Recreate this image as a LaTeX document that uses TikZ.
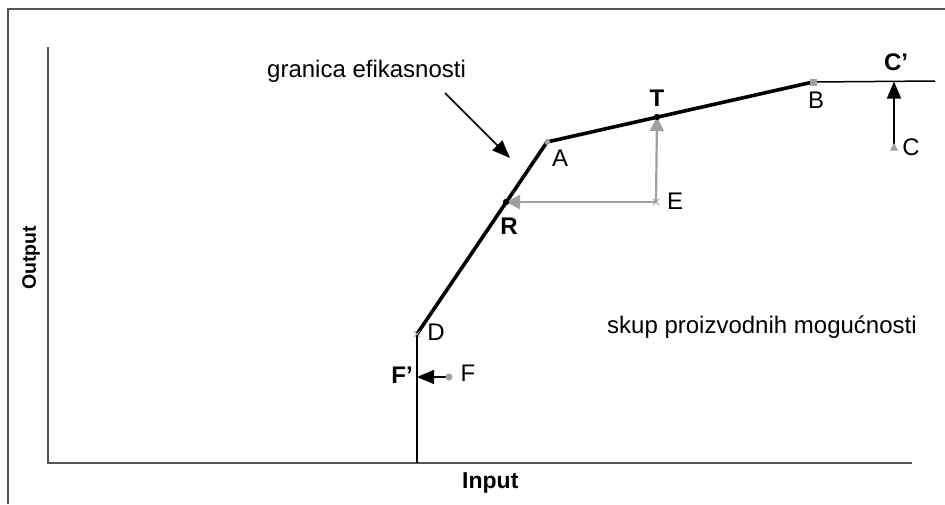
\documentclass[tikz,border=0pt]{standalone}
\usepackage{fontspec}
\setmainfont{Liberation Sans}
\usetikzlibrary{arrows.meta,calc}
\definecolor{axisgray}{HTML}{555555}
\definecolor{ptgray}{HTML}{A0A0A0}
\begin{document}
\begin{tikzpicture}[x=1pt,y=-1pt,
  lbl/.style={font=\fontsize{24}{27}\selectfont, inner sep=0pt},
  blbl/.style={font=\fontsize{24}{27}\selectfont\bfseries, inner sep=0pt},
  axl/.style={font=\fontsize{23}{26}\selectfont\bfseries, inner sep=0pt},
  axlv/.style={font=\fontsize{19.5}{23}\selectfont\bfseries, inner sep=0pt},
  axisline/.style={axisgray, line width=1.6},
  thinfront/.style={black, line width=1.5},
  thickfront/.style={black, line width=3.6, line join=round},
  grayarrow/.style={ptgray, line width=2.2, -{Triangle[length=14,width=14]}},
  blackarrow/.style={black, line width=1.5, -{Triangle[length=17,width=14]}},
  graymark/.style={fill=ptgray, draw=none},
  blackdot/.style={fill=black, draw=none}]
\useasboundingbox (0,0) rectangle (945,504);
% frame
\draw[axisline] (8,504) -- (8,9) -- (945,9);
% axes
\coordinate (ytop) at (48,47);
\coordinate (org) at (48,463);
\coordinate (xend) at (912,463);
\draw[axisline] (ytop) -- (org) -- (xend);
% frontier points
\coordinate (base) at (417,463);
\coordinate (D) at (417,334);
\coordinate (A) at (547,142);
\coordinate (B) at (813,82);
\coordinate (fend) at (935,81);
\coordinate (T) at (657,117);
\coordinate (R) at (506,202);
\coordinate (E) at (656,202);
\coordinate (F) at (449,377);
\coordinate (Fp) at (417,377);
\coordinate (C) at (894,147);
\coordinate (Cp) at (894,81.5);
% frontier
\draw[thinfront] (base) -- (D);
\draw[thinfront] (B) -- (fend);
\draw[thickfront] (D) -- (A) -- (B);
% arrows
\draw[grayarrow] (E) -- (T);
\draw[grayarrow] (E) -- (R);
\draw[blackarrow] (F) -- (Fp);
\draw[blackarrow] (C) -- (Cp);
% markers
\fill[graymark] ($(A)+(0,-3.5)$) -- ($(A)+(3.5,0)$) -- ($(A)+(0,3.5)$) -- ($(A)+(-3.5,0)$) -- cycle;
\fill[graymark] ($(B)+(-3.5,-3.5)$) rectangle ($(B)+(3.5,3.5)$);
\draw[ptgray, line width=1] ($(D)+(-3,-3)$) -- ($(D)+(3,3)$) ($(D)+(-3,3)$) -- ($(D)+(3,-3)$);
\draw[ptgray, line width=1] ($(E)+(-3,-3)$) -- ($(E)+(3,3)$) ($(E)+(-3,3)$) -- ($(E)+(3,-3)$);
\fill[graymark] ($(C)+(0,-4)$) -- ($(C)+(4,3.5)$) -- ($(C)+(-4,3.5)$) -- cycle;
\fill[graymark] (F) circle (3.5);
\fill[blackdot] (T) circle (3.2);
\fill[blackdot] (R) circle (3.2);
% labels
\node[lbl] (lA) at (560,158) {A};
\node[lbl] (lB) at (816,100) {B};
\node[lbl] (lC) at (911,147) {C};
\node[blbl] (lCp) at (896,62) {C’};
\node[lbl] (lD) at (436,332) {D};
\node[lbl] (lE) at (675,201) {E};
\node[lbl] (lF) at (468,373) {F};
\node[blbl] (lFp) at (402,375) {F’};
\node[blbl] (lT) at (657,98) {T};
\node[blbl] (lR) at (509,226) {R};
\node[lbl, anchor=base west] (gran) at (267,77) {granica efikasnosti};
\coordinate (garr) at (510,158);
\draw[black, line width=1.5, -{Triangle[length=18,width=14]}] (445,93) -- (garr);
\node[lbl, anchor=base west] (skup) at (607,333) {skup proizvodnih mogućnosti};
\node[axlv, rotate=90] (out) at (31,258) {Output};
\node[axl, anchor=base west] (inp) at (462,488) {Input};
\end{tikzpicture}
\end{document}
